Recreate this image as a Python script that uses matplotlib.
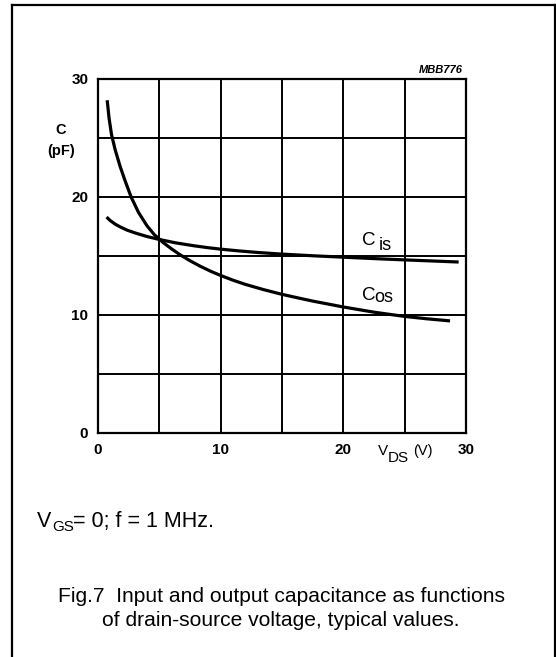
import matplotlib
matplotlib.use("Agg")
import matplotlib.pyplot as plt
from matplotlib.lines import Line2D

plt.rcParams['font.family'] = ['Liberation Sans', 'DejaVu Sans']

# output capacitance C_os vs V_DS
cos_v = [0.75, 0.9, 1.1, 1.4, 1.8, 2.2, 2.7, 3.3, 4.0, 4.6, 5.3, 6.0, 6.7, 7.5, 8.3,
         9.2, 10, 11, 12, 13.5, 15, 16.3, 17.5, 18.8, 20, 21.3, 22.5, 23.8, 25, 26.8, 28.7]
cos_c = [28.2, 26.7, 25.3, 24.0, 22.6, 21.4, 20.0, 18.7, 17.55, 16.8, 16.15, 15.6, 15.1,
         14.6, 14.15, 13.7, 13.35, 12.95, 12.6, 12.15, 11.75, 11.45, 11.18, 10.92, 10.68,
         10.45, 10.24, 10.05, 9.88, 9.68, 9.5]

# input capacitance C_is vs V_DS
cis_v = [0.7, 1.0, 1.4, 1.8, 2.4, 3.1, 4.0, 5.0, 6.3, 7.8, 9.0, 10, 11.5, 13, 15, 17.5,
         20, 22.5, 25, 27.2, 29.4]
cis_c = [18.3, 18.0, 17.7, 17.47, 17.18, 16.93, 16.65, 16.4, 16.12, 15.87, 15.7, 15.58,
         15.43, 15.3, 15.16, 15.02, 14.9, 14.78, 14.67, 14.58, 14.49]

x_ticks = [0, 10, 20, 30]
y_ticks = [0, 10, 20, 30]

W, H = 556, 657
fig = plt.figure(figsize=(W / 100, H / 100), dpi=100)
fig.patch.set_facecolor('white')


def px(x, y):
    return x / W, 1 - y / H


ax = fig.add_axes([98 / W, 1 - 433 / H, (466 - 98) / W, (433 - 79) / H])
ax.set_xlim(0, 30)
ax.set_ylim(0, 30)
ax.set_xticks(range(0, 31, 5))
ax.set_yticks(range(0, 31, 5))
ax.set_xticklabels([str(v) if v in x_ticks else '' for v in range(0, 31, 5)])
ax.set_yticklabels([str(v) if v in y_ticks else '' for v in range(0, 31, 5)])
ax.tick_params(length=0, pad=7, labelsize=11)
for lab in ax.get_xticklabels() + ax.get_yticklabels():
    lab.set_fontweight('bold')
ax.grid(True, color='black', linewidth=1.4)
for s in ax.spines.values():
    s.set_linewidth(1.6)

ax.plot(cos_v, cos_c, color='black', linewidth=2.3, solid_capstyle='butt')
ax.plot(cis_v, cis_c, color='black', linewidth=2.3, solid_capstyle='butt')

# curve labels
ax.text(21.5, 15.93, 'C', fontsize=13.5, va='baseline')
ax.text(22.85, 15.5, 'is', fontsize=13, va='baseline')
ax.text(21.5, 11.27, 'C', fontsize=13.5, va='baseline')
ax.text(22.55, 11.1, 'os', fontsize=13, va='baseline')

# axis titles
fig.text(*px(61, 130), 'C', fontsize=10.5, fontweight='bold', ha='center', va='center')
fig.text(*px(61, 151), '(pF)', fontsize=10.5, fontweight='bold', ha='center', va='center')
fig.text(*px(378, 455), 'V', fontsize=11, ha='left', va='baseline')
fig.text(*px(388, 462), 'DS', fontsize=11, ha='left', va='baseline')
fig.text(*px(413, 455), '(V)', fontsize=10.5, ha='left', va='baseline')
fig.text(*px(463, 73), 'MBB776', fontsize=8, fontweight='bold', style='italic',
         ha='right', va='baseline')

# conditions and caption
fig.text(*px(37, 527), 'V', fontsize=15.5, ha='left', va='baseline')
fig.text(*px(52, 531), 'GS', fontsize=11, ha='left', va='baseline')
fig.text(*px(73, 527), '= 0; f = 1 MHz.', fontsize=15.5, ha='left', va='baseline')
fig.text(*px(281, 602), 'Fig.7  Input and output capacitance as functions',
         fontsize=15.1, ha='center', va='baseline')
fig.text(*px(281, 626), 'of drain-source voltage, typical values.',
         fontsize=15.1, ha='center', va='baseline')

# page frame
for xs, ys in [((12, 12), (5, H)), ((12, 555), (5, 5)), ((555, 555), (5, H))]:
    fig.add_artist(Line2D([x / W for x in xs], [1 - y / H for y in ys],
                          color='black', linewidth=1.6))

fig.savefig('out.png', dpi=100)
